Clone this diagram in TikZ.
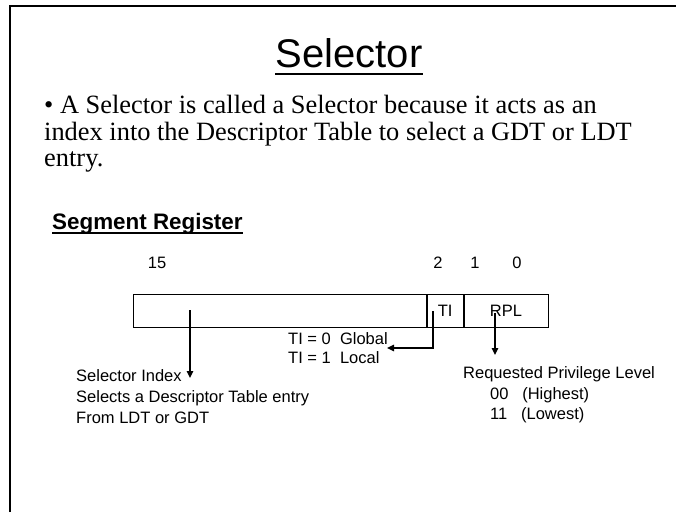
\documentclass[tikz,border=0pt]{standalone}
\usepackage{fontspec}
\setmainfont{Liberation Serif}
\setsansfont{Liberation Sans}
\usepackage{tikz}
\usetikzlibrary{positioning,arrows.meta}
\newcommand{\fsz}[1]{\fontsize{#1}{#1}\selectfont}

\begin{document}
\begin{tikzpicture}[x=1pt, y=-1pt,
  font=\sffamily\fsz{16.5},
  txt/.style={anchor=base west, inner sep=0pt},
  body/.style={txt, font=\rmfamily\fsz{26.4}},
  bitno/.style={anchor=base, inner sep=0pt},
  field/.style={draw, line width=0.8pt, minimum height=33pt, inner sep=0pt, anchor=north west},
  ar/.style={-{Triangle[length=7pt,width=6.5pt]}, line width=1.5pt},
  frame/.style={line width=2pt}
]
\useasboundingbox (0,0) rectangle (676,512);
\draw[frame] (10,512) -- (10,6) -- (676,6);

% title and bullet text
\node[anchor=base, inner sep=0pt, font=\sffamily\fsz{40}] (title) at (349,67) {Selector};
\draw[line width=1.8pt] ([yshift=-7pt]title.base west) -- ([yshift=-7pt]title.base east);
\node[body] (ln1) at (44,113) {• A Selector is called a Selector because it acts as an};
\node[body] (ln2) at (44,140) {index into the Descriptor Table to select a GDT or LDT};
\node[body] (ln3) at (44,166) {entry.};

\node[txt, font=\sffamily\bfseries\fsz{22.4}] (segreg) at (52,229) {Segment Register};
\draw[line width=1.4pt] ([yshift=-4pt]segreg.base west) -- ([yshift=-4pt]segreg.base east);

% register fields
\node[field, minimum width=293pt] (idx) at (133,294) {};
\node[field, minimum width=36pt, right=0pt of idx] (ti) {TI};
\node[field, minimum width=84pt, right=0pt of ti] (rpl) {RPL};

% bit numbers
\node[bitno] (b15) at (157,268) {15};
\node[bitno] (b2) at (438,268) {2};
\node[bitno] (b1) at (475,268) {1};
\node[bitno] (b0) at (517,268) {0};

% field descriptions
\node[txt] (idxa) at (76,381) {Selector Index};
\node[txt] (idxb) at (76,402) {Selects a Descriptor Table entry};
\node[txt] (idxc) at (76,423) {From LDT or GDT};
\node[txt] (tia) at (288,344) {TI = 0~~Global};
\node[txt] (tib) at (288,363) {TI = 1~~Local};
\node[txt] (rpla) at (463,378) {Requested Privilege Level};
\node[txt] (rplb) at (490,399) {00~~~(Highest)};
\node[txt] (rplc) at (490,419) {11~~~(Lowest)};

% arrows
\coordinate (idxtap) at (190,310);
\coordinate (idxend) at (190,378);
\coordinate (titap) at (433,311);
\coordinate (tiend) at (387,348);
\coordinate (rpltap) at (495,313);
\coordinate (rplend) at (495,355);
\draw[ar] (idxtap) -- (idxend);
\draw[ar] (titap) |- (tiend);
\draw[ar] (rpltap) -- (rplend);
\end{tikzpicture}
\end{document}
